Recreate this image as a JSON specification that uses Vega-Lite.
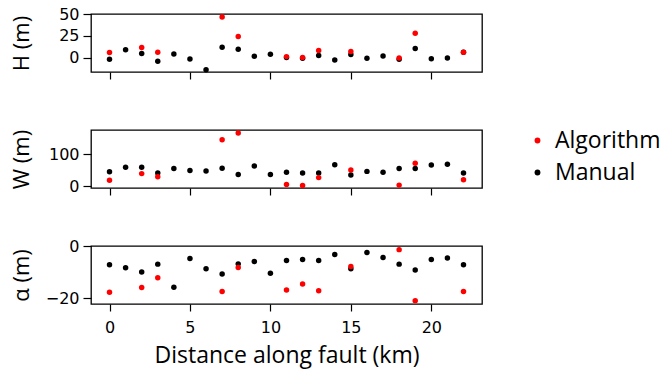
{
  "$schema": "https://vega.github.io/schema/vega-lite/v6.json",
  "background": "white",
  "padding": {"left": 9, "top": 5, "right": 2, "bottom": 5},
  "bounds": "flush",
  "spacing": 58,
  "datasets": {
    "pts": [
      {"km":0,"param":"H","method":"Manual","value":-1.5},
      {"km":1,"param":"H","method":"Manual","value":9.2},
      {"km":2,"param":"H","method":"Manual","value":5},
      {"km":3,"param":"H","method":"Manual","value":-3.8},
      {"km":4,"param":"H","method":"Manual","value":4.6},
      {"km":5,"param":"H","method":"Manual","value":-1.1},
      {"km":6,"param":"H","method":"Manual","value":-13.4},
      {"km":7,"param":"H","method":"Manual","value":12.2},
      {"km":8,"param":"H","method":"Manual","value":9.9},
      {"km":9,"param":"H","method":"Manual","value":1.9},
      {"km":10,"param":"H","method":"Manual","value":4.2},
      {"km":11,"param":"H","method":"Manual","value":0.4},
      {"km":12,"param":"H","method":"Manual","value":-0.4},
      {"km":13,"param":"H","method":"Manual","value":2.7},
      {"km":14,"param":"H","method":"Manual","value":-2.3},
      {"km":15,"param":"H","method":"Manual","value":3.8},
      {"km":16,"param":"H","method":"Manual","value":-0.4},
      {"km":17,"param":"H","method":"Manual","value":2.3},
      {"km":18,"param":"H","method":"Manual","value":-1.5},
      {"km":19,"param":"H","method":"Manual","value":10.7},
      {"km":20,"param":"H","method":"Manual","value":-0.8},
      {"km":21,"param":"H","method":"Manual","value":0},
      {"km":22,"param":"H","method":"Manual","value":6.5},
      {"km":0,"param":"W","method":"Manual","value":46},
      {"km":1,"param":"W","method":"Manual","value":60},
      {"km":2,"param":"W","method":"Manual","value":60},
      {"km":3,"param":"W","method":"Manual","value":42},
      {"km":4,"param":"W","method":"Manual","value":56},
      {"km":5,"param":"W","method":"Manual","value":49.5},
      {"km":6,"param":"W","method":"Manual","value":48.5},
      {"km":7,"param":"W","method":"Manual","value":57},
      {"km":8,"param":"W","method":"Manual","value":37},
      {"km":9,"param":"W","method":"Manual","value":64},
      {"km":10,"param":"W","method":"Manual","value":37},
      {"km":11,"param":"W","method":"Manual","value":44},
      {"km":12,"param":"W","method":"Manual","value":42},
      {"km":13,"param":"W","method":"Manual","value":42},
      {"km":14,"param":"W","method":"Manual","value":68},
      {"km":15,"param":"W","method":"Manual","value":36},
      {"km":16,"param":"W","method":"Manual","value":47},
      {"km":17,"param":"W","method":"Manual","value":44},
      {"km":18,"param":"W","method":"Manual","value":56},
      {"km":19,"param":"W","method":"Manual","value":56},
      {"km":20,"param":"W","method":"Manual","value":67},
      {"km":21,"param":"W","method":"Manual","value":69.5},
      {"km":22,"param":"W","method":"Manual","value":42},
      {"km":0,"param":"A","method":"Manual","value":-7.1},
      {"km":1,"param":"A","method":"Manual","value":-8.3},
      {"km":2,"param":"A","method":"Manual","value":-9.9},
      {"km":3,"param":"A","method":"Manual","value":-6.9},
      {"km":4,"param":"A","method":"Manual","value":-15.8},
      {"km":5,"param":"A","method":"Manual","value":-4.7},
      {"km":6,"param":"A","method":"Manual","value":-8.7},
      {"km":7,"param":"A","method":"Manual","value":-10.7},
      {"km":8,"param":"A","method":"Manual","value":-6.8},
      {"km":9,"param":"A","method":"Manual","value":-5.9},
      {"km":10,"param":"A","method":"Manual","value":-10.4},
      {"km":11,"param":"A","method":"Manual","value":-5.5},
      {"km":12,"param":"A","method":"Manual","value":-5.1},
      {"km":13,"param":"A","method":"Manual","value":-5.5},
      {"km":14,"param":"A","method":"Manual","value":-3.2},
      {"km":15,"param":"A","method":"Manual","value":-8.7},
      {"km":16,"param":"A","method":"Manual","value":-2.4},
      {"km":17,"param":"A","method":"Manual","value":-4.3},
      {"km":18,"param":"A","method":"Manual","value":-6.9},
      {"km":19,"param":"A","method":"Manual","value":-9.2},
      {"km":20,"param":"A","method":"Manual","value":-5.1},
      {"km":21,"param":"A","method":"Manual","value":-4.5},
      {"km":22,"param":"A","method":"Manual","value":-7.1},
      {"km":0,"param":"H","method":"Algorithm","value":6.1},
      {"km":2,"param":"H","method":"Algorithm","value":11.8},
      {"km":3,"param":"H","method":"Algorithm","value":6.5},
      {"km":7,"param":"H","method":"Algorithm","value":46.6},
      {"km":8,"param":"H","method":"Algorithm","value":24.4},
      {"km":11,"param":"H","method":"Algorithm","value":1.5},
      {"km":12,"param":"H","method":"Algorithm","value":0.4},
      {"km":13,"param":"H","method":"Algorithm","value":8.4},
      {"km":15,"param":"H","method":"Algorithm","value":7.3},
      {"km":18,"param":"H","method":"Algorithm","value":0},
      {"km":19,"param":"H","method":"Algorithm","value":28.2},
      {"km":22,"param":"H","method":"Algorithm","value":6.5},
      {"km":0,"param":"W","method":"Algorithm","value":19},
      {"km":2,"param":"W","method":"Algorithm","value":40},
      {"km":3,"param":"W","method":"Algorithm","value":30.5},
      {"km":7,"param":"W","method":"Algorithm","value":146},
      {"km":8,"param":"W","method":"Algorithm","value":167},
      {"km":11,"param":"W","method":"Algorithm","value":6},
      {"km":12,"param":"W","method":"Algorithm","value":3},
      {"km":13,"param":"W","method":"Algorithm","value":27.5},
      {"km":15,"param":"W","method":"Algorithm","value":51.5},
      {"km":18,"param":"W","method":"Algorithm","value":4},
      {"km":19,"param":"W","method":"Algorithm","value":72.5},
      {"km":22,"param":"W","method":"Algorithm","value":21},
      {"km":0,"param":"A","method":"Algorithm","value":-17.8},
      {"km":2,"param":"A","method":"Algorithm","value":-15.9},
      {"km":3,"param":"A","method":"Algorithm","value":-12.2},
      {"km":7,"param":"A","method":"Algorithm","value":-17.5},
      {"km":8,"param":"A","method":"Algorithm","value":-8.2},
      {"km":11,"param":"A","method":"Algorithm","value":-16.9},
      {"km":12,"param":"A","method":"Algorithm","value":-14.6},
      {"km":13,"param":"A","method":"Algorithm","value":-17.2},
      {"km":15,"param":"A","method":"Algorithm","value":-7.8},
      {"km":18,"param":"A","method":"Algorithm","value":-1.3},
      {"km":19,"param":"A","method":"Algorithm","value":-21},
      {"km":22,"param":"A","method":"Algorithm","value":-17.5}
    ]
  },
  "data": {"name": "pts"},
  "vconcat": [
    {
      "width": 391, "height": 58,
      "transform": [{"filter": "datum.param === 'H'"}],
      "mark": {"type": "point", "filled": true, "size": 30, "opacity": 1, "strokeWidth": 0},
      "encoding": {
        "x": {"field": "km", "type": "quantitative", "scale": {"domain": [-1.15, 23.15], "nice": false, "zero": false},
              "axis": {"values": [0,5,10,15,20], "labels": false, "title": null}},
        "y": {"field": "value", "type": "quantitative", "scale": {"domain": [-16, 50], "nice": false, "zero": false},
              "axis": {"values": [0,25,50], "title": "H (m)", "titleX": -58}},
        "color": {"field": "method", "type": "nominal", "scale": {"domain": ["Algorithm","Manual"], "range": ["#ff0000","#000000"]}, "legend": {"title": null}}
      }
    },
    {
      "width": 391, "height": 58,
      "transform": [{"filter": "datum.param === 'W'"}],
      "mark": {"type": "point", "filled": true, "size": 30, "opacity": 1, "strokeWidth": 0},
      "encoding": {
        "x": {"field": "km", "type": "quantitative", "scale": {"domain": [-1.15, 23.15], "nice": false, "zero": false},
              "axis": {"values": [0,5,10,15,20], "labels": false, "title": null}},
        "y": {"field": "value", "type": "quantitative", "scale": {"domain": [-5, 176.5], "nice": false, "zero": false},
              "axis": {"values": [0,100], "title": "W (m)", "titleX": -58}},
        "color": {"field": "method", "type": "nominal", "scale": {"domain": ["Algorithm","Manual"], "range": ["#ff0000","#000000"]}, "legend": {"title": null}}
      }
    },
    {
      "width": 391, "height": 58,
      "transform": [{"filter": "datum.param === 'A'"}],
      "mark": {"type": "point", "filled": true, "size": 30, "opacity": 1, "strokeWidth": 0},
      "encoding": {
        "x": {"field": "km", "type": "quantitative", "scale": {"domain": [-1.15, 23.15], "nice": false, "zero": false},
              "axis": {"values": [0,5,10,15,20], "title": "Distance along fault (km)"}},
        "y": {"field": "value", "type": "quantitative", "scale": {"domain": [-22.3, 0.1], "nice": false, "zero": false},
              "axis": {"values": [-20,0], "title": "α (m)", "titleX": -58}},
        "color": {"field": "method", "type": "nominal", "scale": {"domain": ["Algorithm","Manual"], "range": ["#ff0000","#000000"]}, "legend": {"title": null}}
      }
    }
  ],
  "config": {
    "view": {"stroke": "#000000", "strokeWidth": 1.3},
    "axis": {
      "domain": false, "grid": false,
      "ticks": true, "tickColor": "#000000", "tickWidth": 1.2,
      "labelFont": "DejaVu Sans", "labelFontSize": 16, "labelColor": "#000000",
      "titleFont": "Open Sans", "titleFontSize": 22, "titleFontWeight": "normal", "titleColor": "#000000"
    },
    "axisY": {"tickSize": 8, "labelPadding": 4},
    "axisX": {"tickSize": 7, "labelPadding": 8, "titlePadding": 9, "titleFontSize": 23},
    "legend": {
      "orient": "none", "legendX": 435, "legendY": 115,
      "labelFont": "Open Sans", "labelFontSize": 23, "labelColor": "#000000",
      "symbolType": "circle", "symbolSize": 34, "symbolStrokeWidth": 0,
      "rowPadding": 8, "labelOffset": 6
    }
  }
}
